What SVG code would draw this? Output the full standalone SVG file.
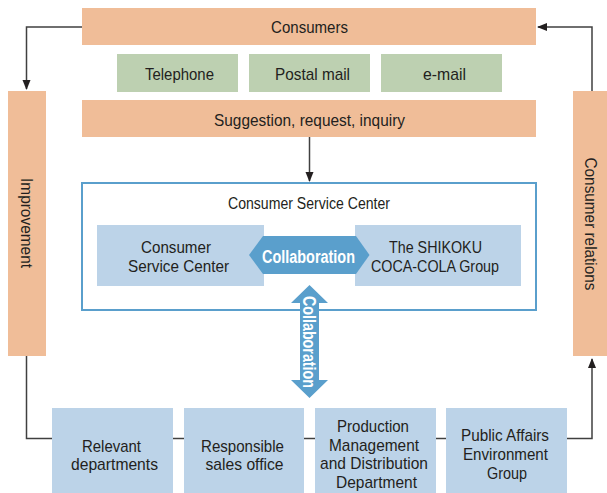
<svg xmlns="http://www.w3.org/2000/svg" width="607" height="493" viewBox="0 0 607 493">
<style>
.o{fill:#f0bd98}
.g{fill:#bdd0b1}
.b{fill:#bcd3e8}
.t{font-family:"Liberation Sans",Arial,sans-serif;font-size:17px;fill:#231f20;text-anchor:middle}
.w{font-family:"Liberation Sans",Arial,sans-serif;font-size:17.5px;font-weight:bold;fill:#ffffff;text-anchor:middle}
.ln{fill:none;stroke:#404040;stroke-width:1.5}
</style>
<defs>
<marker id="ah" markerWidth="10" markerHeight="10" refX="9" refY="5" orient="auto" markerUnits="userSpaceOnUse">
<path d="M0,1 L10,5 L0,9 z" fill="#231f20"/>
</marker>
</defs>
<g id="connectors">
<path class="ln" d="M82,27 H26.5 V89" marker-end="url(#ah)"/>
<path class="ln" d="M592,91 V27 H538" marker-end="url(#ah)"/>
<path class="ln" d="M309.5,137 V181" marker-end="url(#ah)"/>
<path class="ln" d="M26.5,355 V438.5 H52"/>
<path class="ln" d="M173,438.5 H184"/>
<path class="ln" d="M304,438.5 H315"/>
<path class="ln" d="M436,438.5 H446"/>
<path class="ln" d="M567,438.5 H592 V359" marker-end="url(#ah)"/>
</g>
<g id="consumers"><rect class="o" x="82" y="8" width="454" height="37"/><text class="t" x="309.5" y="33" textLength="77" lengthAdjust="spacingAndGlyphs">Consumers</text></g>
<g id="telephone"><rect class="g" x="117" y="54" width="121" height="38"/><text class="t" x="179.5" y="79.5" textLength="69" lengthAdjust="spacingAndGlyphs">Telephone</text></g>
<g id="postal"><rect class="g" x="249" y="54" width="121" height="38"/><text class="t" x="312.5" y="79.5" textLength="75" lengthAdjust="spacingAndGlyphs">Postal mail</text></g>
<g id="email"><rect class="g" x="381" y="54" width="121" height="38"/><text class="t" x="444.5" y="79.5" textLength="43" lengthAdjust="spacingAndGlyphs">e-mail</text></g>
<g id="suggestion"><rect class="o" x="82" y="100" width="454" height="37"/><text class="t" x="309.5" y="126" textLength="191" lengthAdjust="spacingAndGlyphs">Suggestion, request, inquiry</text></g>
<g id="improvement"><rect class="o" x="8" y="91" width="38" height="265"/><text class="t" transform="translate(20.5,223) rotate(90)" x="0" y="0" textLength="90" lengthAdjust="spacingAndGlyphs">Improvement</text></g>
<g id="consumer-relations"><rect class="o" x="573" y="91" width="34" height="265"/><text class="t" transform="translate(585,224) rotate(90)" x="0" y="0" textLength="133" lengthAdjust="spacingAndGlyphs">Consumer relations</text></g>
<g id="csc-outer"><rect x="82" y="183" width="454" height="127" fill="#ffffff" stroke="#5a9fcc" stroke-width="2"/><text class="t" x="309" y="209" style="font-size:16px" textLength="162" lengthAdjust="spacingAndGlyphs">Consumer Service Center</text></g>
<g id="csc-inner"><rect class="b" x="97" y="225" width="167" height="61"/><text class="t" x="176" y="252.5" textLength="70" lengthAdjust="spacingAndGlyphs">Consumer</text><text class="t" x="178.5" y="272" textLength="101" lengthAdjust="spacingAndGlyphs">Service Center</text></g>
<g id="shikoku"><rect class="b" x="355" y="225" width="166" height="61"/><text class="t" x="435.5" y="252.5" textLength="93" lengthAdjust="spacingAndGlyphs">The SHIKOKU</text><text class="t" x="435" y="272" textLength="128" lengthAdjust="spacingAndGlyphs">COCA-COLA Group</text></g>
<g id="collab-h"><path d="M249,255 L263,236 H356 L369.5,255 L356,274 H263 z" fill="#5a9fcc"/><text class="w" x="308.5" y="262.5" textLength="93" lengthAdjust="spacingAndGlyphs">Collaboration</text></g>
<g id="collab-v"><path d="M309.5,285 L328,303 H319 V380 H328 L309.5,398 L291,380 H300 V303 H291 z" fill="#5a9fcc"/><text class="w" transform="translate(303,342) rotate(90)" x="0" y="0" textLength="92" lengthAdjust="spacingAndGlyphs">Collaboration</text></g>
<g id="relevant"><rect class="b" x="52" y="408" width="121" height="85"/><text class="t" x="111.5" y="451.5" textLength="59" lengthAdjust="spacingAndGlyphs">Relevant</text><text class="t" x="114.5" y="469.5" textLength="87" lengthAdjust="spacingAndGlyphs">departments</text></g>
<g id="sales"><rect class="b" x="184" y="408" width="120" height="85"/><text class="t" x="242.5" y="451.5" textLength="83" lengthAdjust="spacingAndGlyphs">Responsible</text><text class="t" x="244.5" y="469.5" textLength="78" lengthAdjust="spacingAndGlyphs">sales office</text></g>
<g id="production"><rect class="b" x="315" y="408" width="121" height="85"/><text class="t" x="373" y="432" textLength="72" lengthAdjust="spacingAndGlyphs">Production</text><text class="t" x="374" y="450.5" textLength="90" lengthAdjust="spacingAndGlyphs">Management</text><text class="t" x="374" y="469" textLength="108" lengthAdjust="spacingAndGlyphs">and Distribution</text><text class="t" x="376.5" y="487.5" textLength="81" lengthAdjust="spacingAndGlyphs">Department</text></g>
<g id="public"><rect class="b" x="446" y="408" width="121" height="85"/><text class="t" x="505" y="441" textLength="88" lengthAdjust="spacingAndGlyphs">Public Affairs</text><text class="t" x="505.5" y="460" textLength="85" lengthAdjust="spacingAndGlyphs">Environment</text><text class="t" x="507" y="478.5" textLength="40" lengthAdjust="spacingAndGlyphs">Group</text></g>
</svg>
